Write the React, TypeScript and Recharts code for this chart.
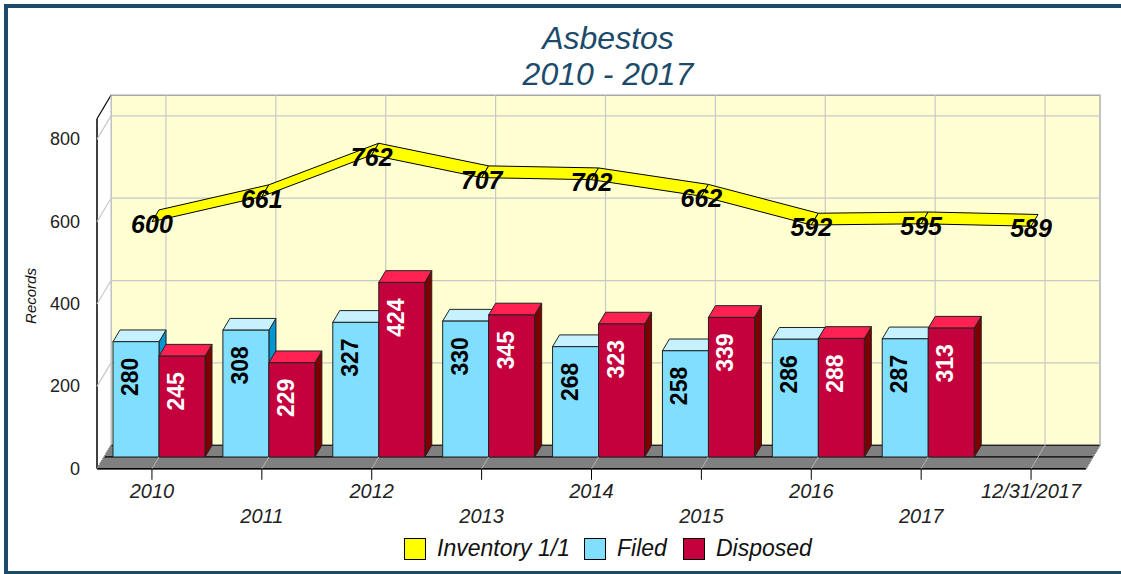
import React from 'react';
import { ComposedChart, Bar, Line, XAxis, YAxis, CartesianGrid, LabelList } from 'recharts';

const categories = ['2010', '2011', '2012', '2013', '2014', '2015', '2016', '2017', '12/31/2017'];
const inventory = [600, 661, 762, 707, 702, 662, 592, 595, 589];
const filed: (number | null)[] = [280, 308, 327, 330, 268, 258, 286, 287, null];
const disposed: (number | null)[] = [245, 229, 424, 345, 323, 339, 288, 313, null];
const yTicks = [0, 200, 400, 600, 800];
const yMax = 850;

const titleLines = ['Asbestos', '2010 - 2017'];
const yLabel = 'Records';
const legendItems = [
  { name: 'Inventory 1/1', color: '#FFFF00' },
  { name: 'Filed', color: '#80DFFF' },
  { name: 'Disposed', color: '#C4003D' },
];

const data = categories.map((c, i) => ({
  category: c,
  inventory: inventory[i],
  filed: filed[i],
  disposed: disposed[i],
}));

const W = 1121;
const H = 574;
const PLOT_L = 104;
const PLOT_R = 1093;
const PLOT_T = 107;
const PLOT_B = 457;
const X_AXIS_H = 30;
const Y_AXIS_W = 30;
const DX = 7;
const DY = 11.75;
const FONT = '"Liberation Sans", Arial, Helvetica, sans-serif';
const GRID = '#c8c8c8';
const FRAME = '#1c4a6a';

const hGrid = (p: any) => {
  const { x1, x2, y1 } = p;
  if (Math.abs(y1 - PLOT_B) < 1 || Math.abs(y1 - PLOT_T) < 1) return <g key={p.key} />;
  return (
    <g key={p.key}>
      <line x1={x1 + DX} y1={y1 - DY} x2={x2 + DX} y2={y1 - DY} stroke={GRID} strokeWidth={1.2} />
      <line x1={x1 - DX} y1={y1 + DY} x2={x1 + DX} y2={y1 - DY} stroke={GRID} strokeWidth={1.2} />
    </g>
  );
};

const vGrid = (p: any) => {
  const { x1 } = p;
  const top = Math.min(p.y1, p.y2);
  const bot = Math.max(p.y1, p.y2);
  return (
    <g key={p.key}>
      <line x1={x1 + DX} y1={top - DY} x2={x1 + DX} y2={bot - DY} stroke={GRID} strokeWidth={1.2} />
      <line x1={x1 - DX} y1={bot + DY} x2={x1 + DX} y2={bot - DY} stroke="#b4b4b4" strokeWidth={1} />
    </g>
  );
};

const XTick = (p: any) => {
  const { x, payload, index } = p;
  const fx = x - DX;
  const row2 = index % 2 === 1;
  return (
    <g>
      <line x1={fx} y1={PLOT_B + DY} x2={fx} y2={PLOT_B + DY + 11} stroke="#000" strokeWidth={1} />
      <text
        x={fx}
        y={PLOT_B + (row2 ? 66 : 41)}
        textAnchor="middle"
        fontStyle="italic"
        fontSize={20}
        fill="#222"
        fontFamily={FONT}
      >
        {payload.value}
      </text>
    </g>
  );
};

const YTick = (p: any) => {
  const { y, payload } = p;
  return (
    <text
      x={PLOT_L - 24}
      y={y + DY}
      textAnchor="end"
      dominantBaseline="central"
      fontSize={18}
      fill="#222"
      fontFamily={FONT}
    >
      {payload.value}
    </text>
  );
};

const make3DBar = (front: string, top: string, side: string) => (p: any) => {
  const { x, y, width, height } = p;
  if (height == null || !(height > 0)) return <g />;
  const r = x + width;
  const b = y + height;
  return (
    <g>
      <polygon
        points={`${r},${y} ${r + DX},${y - DY} ${r + DX},${b - DY} ${r},${b}`}
        fill={side}
        stroke="#222"
        strokeWidth={1}
      />
      <polygon
        points={`${x},${y} ${x + DX},${y - DY} ${r + DX},${y - DY} ${r},${y}`}
        fill={top}
        stroke="#222"
        strokeWidth={1}
      />
      <rect x={x} y={y} width={width} height={height} fill={front} stroke="#222" strokeWidth={1} />
    </g>
  );
};

const barLabel = (color: string) => (p: any) => {
  const vb = p.viewBox || {};
  const x = p.x ?? vb.x;
  const y = p.y ?? vb.y;
  const width = p.width ?? vb.width;
  if (p.value == null || x == null) return null;
  const cx = x + width / 2 - 6;
  const ty = y + 16;
  return (
    <text
      transform={`translate(${cx},${ty}) rotate(-90)`}
      textAnchor="end"
      dominantBaseline="central"
      fontSize={23}
      fontWeight="bold"
      fill={color}
      fontFamily={FONT}
    >
      {p.value}
    </text>
  );
};

const RibbonDot = (props: any) => {
  const { index, points } = props;
  if (index !== 0 || !Array.isArray(points)) return <g key={`rd-${index}`} />;
  const pts = points.filter((q: any) => q && q.x != null && q.y != null);
  const quads = [];
  for (let i = 0; i < pts.length - 1; i++) {
    const a = pts[i];
    const b = pts[i + 1];
    quads.push(
      <polygon
        key={i}
        points={`${a.x},${a.y} ${b.x},${b.y} ${b.x - DX},${b.y + DY} ${a.x - DX},${a.y + DY}`}
        fill="#FFFF00"
        stroke="#000"
        strokeWidth={1}
        strokeLinejoin="round"
      />
    );
  }
  return <g key="ribbon">{quads}</g>;
};

const invLabel = (p: any) => {
  const { x, y, value } = p;
  if (x == null || value == null) return null;
  return (
    <text
      x={x - DX}
      y={y + DY + 2}
      textAnchor="middle"
      dominantBaseline="central"
      fontSize={25}
      fontWeight="bold"
      fontStyle="italic"
      fill="#000"
      fontFamily={FONT}
    >
      {value}
    </text>
  );
};

const Background = () => {
  const fL = PLOT_L - DX;
  const fT = PLOT_T + DY;
  const fB = PLOT_B + DY;
  const bL = PLOT_L + DX;
  const bR = PLOT_R + DX;
  const bT = PLOT_T - DY;
  const bB = PLOT_B - DY;
  const fR = PLOT_R - DX;
  const legendX = [404, 584, 683];
  return (
    <svg width={W} height={H} style={{ position: 'absolute', left: 0, top: 0 }}>
      <rect x={0} y={0} width={W} height={H} fill="#fff" />
      <rect x={6} y={6} width={1200} height={567} fill="none" stroke={FRAME} strokeWidth={4} />
      <text x={608} y={49} textAnchor="middle" fontSize={32} fontStyle="italic" fill={FRAME} fontFamily={FONT}>
        {titleLines[0]}
      </text>
      <text x={608} y={85} textAnchor="middle" fontSize={32} fontStyle="italic" fill={FRAME} fontFamily={FONT}>
        {titleLines[1]}
      </text>
      <text
        transform="translate(36,296) rotate(-90)"
        textAnchor="middle"
        fontSize={15}
        fontStyle="italic"
        fill="#111"
        fontFamily={FONT}
      >
        {yLabel}
      </text>
      <rect x={bL} y={bT} width={bR - bL} height={bB - bT} fill="#FFFFD2" stroke="#a8a8a8" strokeWidth={1.5} />
      <polygon points={`${fL},${fT} ${bL},${bT} ${bL},${bB} ${fL},${fB}`} fill="#fff" stroke="none" />
      <line x1={fL} y1={fT} x2={bL} y2={bT} stroke="#000" strokeWidth={1.2} />
      <polygon
        points={`${PLOT_L},${PLOT_B} ${bL},${bB} ${bR},${bB} ${PLOT_R},${PLOT_B}`}
        fill="#808080"
        stroke="#000"
        strokeWidth={1}
      />
      <polygon
        points={`${fL},${fB} ${PLOT_L},${PLOT_B} ${PLOT_R},${PLOT_B} ${fR},${fB}`}
        fill="#808080"
        stroke="#000"
        strokeWidth={1}
      />
      <line x1={fL} y1={fT} x2={fL} y2={fB} stroke="#000" strokeWidth={1.5} />
      <line x1={fL} y1={fB} x2={fR} y2={fB} stroke="#000" strokeWidth={1.5} />
      {legendItems.map((it, i) => (
        <g key={it.name}>
          <rect x={legendX[i] + 0.5} y={538.5} width={21} height={21} fill={it.color} stroke="#000" strokeWidth={1} />
          <text x={legendX[i] + 33} y={556} fontSize={23} fontStyle="italic" fill="#111" fontFamily={FONT}>
            {it.name}
          </text>
        </g>
      ))}
    </svg>
  );
};

export default function App() {
  return (
    <div style={{ position: 'absolute', left: 0, top: 0, width: W, height: H, overflow: 'hidden', background: '#fff' }}>
      <Background />
      <div style={{ position: 'absolute', left: 0, top: 0 }}>
        <ComposedChart
          width={W}
          height={H}
          data={data}
          margin={{ top: PLOT_T, right: W - PLOT_R, bottom: H - PLOT_B - X_AXIS_H, left: PLOT_L - Y_AXIS_W }}
          barCategoryGap={9}
          barGap={0}
        >
          <CartesianGrid horizontal={hGrid} vertical={vGrid} fill="none" />
          <XAxis
            dataKey="category"
            height={X_AXIS_H}
            interval={0}
            axisLine={false}
            tickLine={false}
            tick={XTick}
          />
          <YAxis
            domain={[0, yMax]}
            ticks={yTicks}
            width={Y_AXIS_W}
            axisLine={false}
            tickLine={false}
            tick={YTick}
            allowDataOverflow
          />
          <Bar dataKey="filed" fill="#80DFFF" shape={make3DBar('#80DFFF', '#C6F1FF', '#0096D2')} isAnimationActive={false}>
            <LabelList dataKey="filed" content={barLabel('#000')} />
          </Bar>
          <Bar dataKey="disposed" fill="#C4003D" shape={make3DBar('#C4003D', '#FF2152', '#7D0000')} isAnimationActive={false}>
            <LabelList dataKey="disposed" content={barLabel('#fff')} />
          </Bar>
          <Line
            dataKey="inventory"
            stroke="none"
            dot={RibbonDot}
            activeDot={false}
            label={invLabel}
            isAnimationActive={false}
          />
        </ComposedChart>
      </div>
    </div>
  );
}
